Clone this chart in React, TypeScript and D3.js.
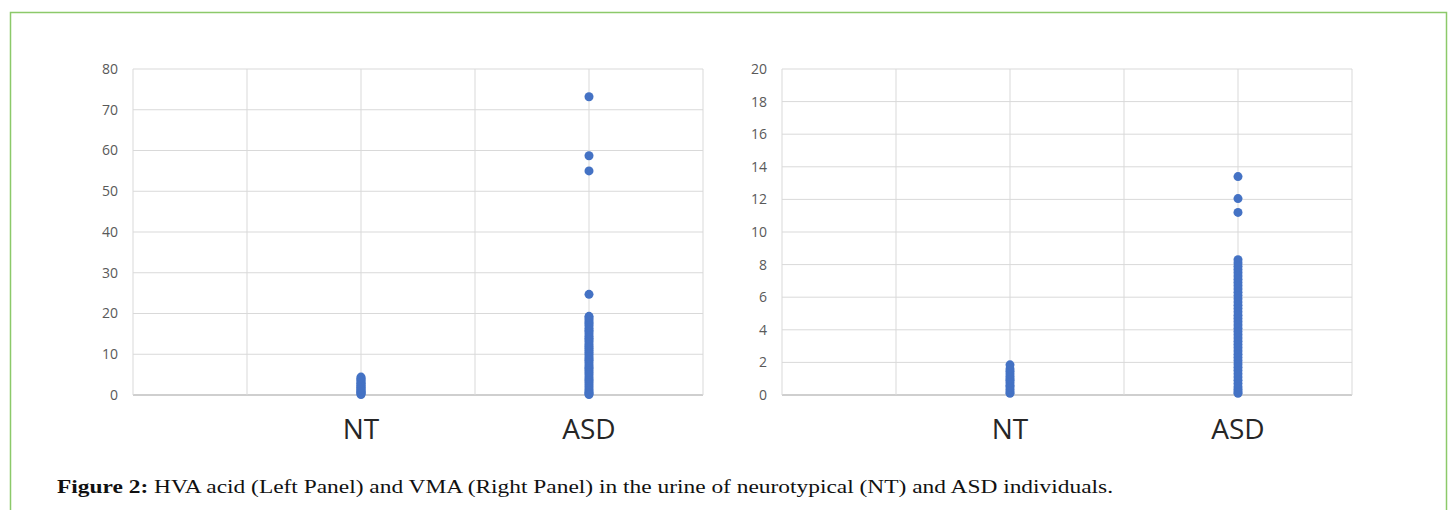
import React from 'react';
import * as d3 from 'd3';

// categories sit on an Excel-style numeric x axis (0..5)
const categories = ['NT', 'ASD'];
const categoryX = [2, 4];
const xTicks = [0, 1, 2, 3, 4, 5];

// left panel: HVA
const hvaTicks = [0, 10, 20, 30, 40, 50, 60, 70, 80];
const hvaNT = [0.1, 0.3, 0.5, 0.7, 0.9, 1.1, 1.4, 1.6, 1.9, 2.1, 2.4, 2.7, 2.9, 3.2, 3.5, 3.8, 4.1, 4.4];
const hvaASD = [
  73.2, 58.7, 55.0, 24.7,
  19.3, 18.9, 18.4, 17.9, 17.5, 17.0, 16.4, 15.9, 15.5, 15.0, 14.4, 13.9, 13.5, 13.0,
  12.4, 11.9, 11.5, 11.0, 10.5, 10.0, 9.4, 8.9, 8.5, 8.0, 7.4, 6.9, 6.5, 6.0, 5.5,
  5.0, 4.4, 3.9, 3.5, 3.0, 2.5, 2.0, 1.5, 1.0, 0.6, 0.3, 0.1,
];

// right panel: VMA
const vmaTicks = [0, 2, 4, 6, 8, 10, 12, 14, 16, 18, 20];
const vmaNT = [0.1, 0.2, 0.35, 0.5, 0.6, 0.75, 0.9, 1.0, 1.15, 1.3, 1.45, 1.6, 1.85];
const vmaASD = [
  13.4, 12.05, 11.2,
  8.3, 8.1, 7.9, 7.7, 7.5, 7.3, 7.1, 6.9, 6.7, 6.5, 6.3, 6.1, 5.9, 5.7, 5.5, 5.3,
  5.1, 4.9, 4.7, 4.5, 4.3, 4.1, 3.9, 3.7, 3.5, 3.3, 3.1, 2.9, 2.7, 2.5, 2.3, 2.1,
  1.9, 1.7, 1.5, 1.3, 1.1, 0.9, 0.7, 0.5, 0.35, 0.2, 0.1,
];

const panels = [
  { left: 133, right: 703, ticks: hvaTicks, series: [hvaNT, hvaASD] },
  { left: 782, right: 1352, ticks: vmaTicks, series: [vmaNT, vmaASD] },
];

const top = 69;
const bottom = 395;
const dotColor = '#4472c4';
const gridColor = '#d9d9d9';
const labelFont = '"Open Sans", Lato, sans-serif';

function Panel({ p }) {
  const x = d3.scaleLinear().domain([0, 5]).range([p.left, p.right]);
  const y = d3.scaleLinear().domain([0, d3.max(p.ticks)]).range([bottom, top]);
  return (
    <g>
      {p.ticks.map((t) => (
        <g key={'y' + t}>
          <line x1={p.left} x2={p.right} y1={y(t)} y2={y(t)} stroke={t === 0 ? '#bfbfbf' : gridColor} strokeWidth={t === 0 ? 1.5 : 1} />
          <text x={p.left - 15} y={y(t)} dy="0.35em" textAnchor="end" fontSize={14} fill="#595959" fontFamily={labelFont}>
            {t}
          </text>
        </g>
      ))}
      {xTicks.map((t) => (
        <line key={'x' + t} x1={x(t)} x2={x(t)} y1={top} y2={bottom} stroke={gridColor} strokeWidth={1} />
      ))}
      {categories.map((c, i) => (
        <g key={c}>
          {p.series[i].map((v, j) => (
            <circle key={j} cx={x(categoryX[i])} cy={y(v)} r={4.5} fill={dotColor} />
          ))}
          <text x={x(categoryX[i])} y={439} textAnchor="middle" fontSize={28} fill="#262626" fontFamily={labelFont}>
            {c}
          </text>
        </g>
      ))}
    </g>
  );
}

export default function App() {
  return (
    <svg width={1454} height={510} style={{ position: 'absolute', left: 0, top: 0, background: '#fff' }}>
      <rect x={0} y={0} width={1454} height={510} fill="#fff" />
      <rect x={10.5} y={12.5} width={1436} height={520} fill="none" stroke="#8cc96a" strokeWidth={1.5} />
      {panels.map((p, i) => (
        <Panel key={i} p={p} />
      ))}
      <text x={57} y={493} fontSize={19} fill="#111" fontFamily='"Liberation Serif", "DejaVu Serif", serif' textLength={1056} lengthAdjust="spacingAndGlyphs">
        <tspan fontWeight="bold">Figure 2:</tspan>
        <tspan> HVA acid (Left Panel) and VMA (Right Panel) in the urine of neurotypical (NT) and ASD individuals.</tspan>
      </text>
    </svg>
  );
}
